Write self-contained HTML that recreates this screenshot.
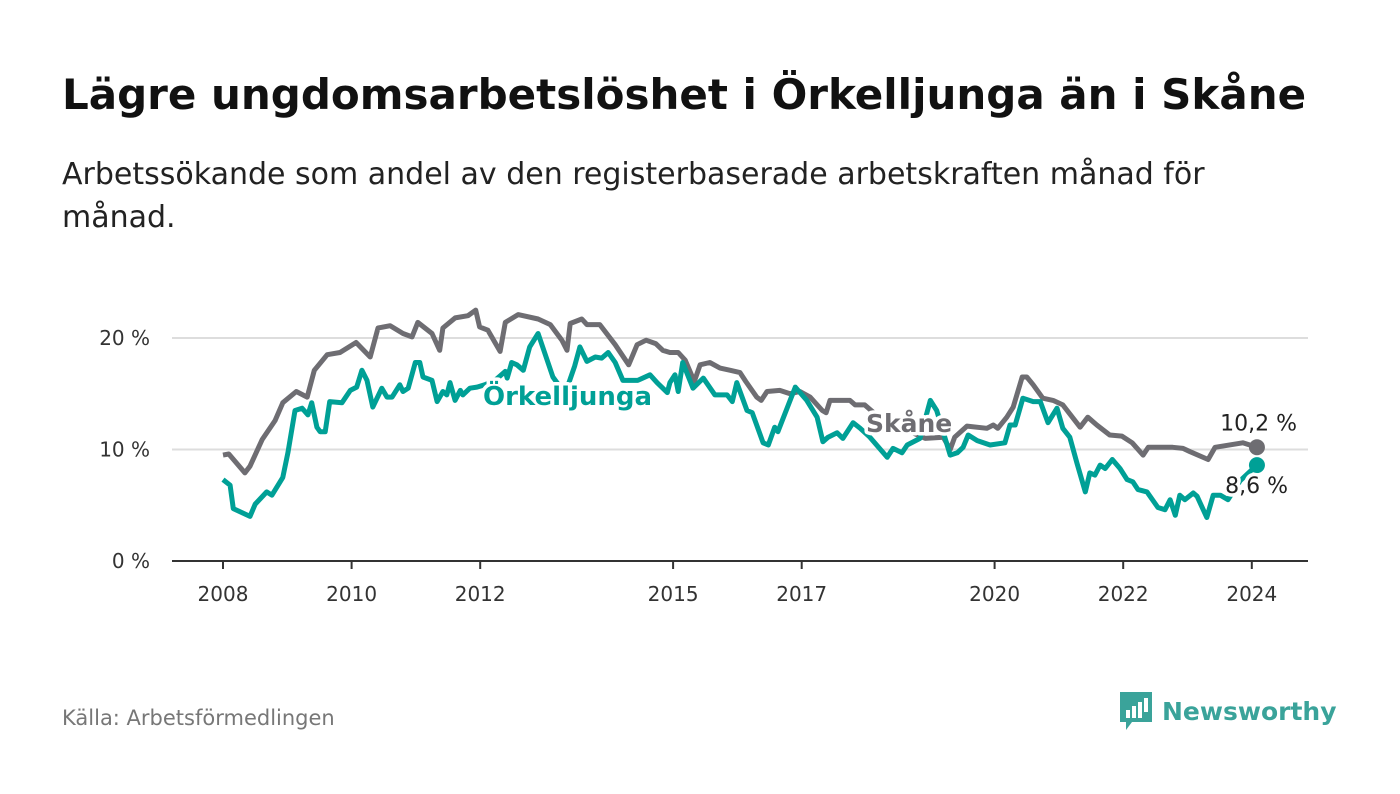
<!DOCTYPE html>
<html><head><meta charset="utf-8"><style>
body{margin:0;width:1400px;height:794px;background:#fff;font-family:"DejaVu Sans","Liberation Sans",sans-serif;overflow:hidden;position:relative}
h1{position:absolute;left:62px;top:70px;margin:0;font-size:42px;font-weight:bold;color:#111;white-space:nowrap}
.sub{position:absolute;left:62px;top:153px;width:1190px;font-size:30px;line-height:43px;color:#222}
.src{position:absolute;left:62px;top:706px;font-size:21px;color:#777}
.logo{position:absolute;left:1118px;top:690px;display:flex;align-items:center;gap:8px;color:#3aa39a;font-weight:bold;font-size:25px}
</style></head><body>
<h1>Lägre ungdomsarbetslöshet i Örkelljunga än i Skåne</h1>
<div class="sub">Arbetssökande som andel av den registerbaserade arbetskraften månad för månad.</div>
<div class="src">Källa: Arbetsförmedlingen</div>
<div class="logo">
<svg width="36" height="42" viewBox="0 0 36 42"><path d="M2 2h32v30H14l-6 8v-8H2z" fill="#3aa39a"/><rect x="8" y="20" width="4" height="8" fill="#fff"/><rect x="14" y="16" width="4" height="12" fill="#fff"/><rect x="20" y="12" width="4" height="16" fill="#fff"/><rect x="26" y="8" width="4" height="14" fill="#fff"/></svg>
<span>Newsworthy</span></div>
<svg id="chart" width="1400" height="794" style="position:absolute;left:0;top:0"></svg>
<script>
const skaneDates=[2008.00,2008.09,2008.34,2008.42,2008.61,2008.81,2008.93,2009.14,2009.31,2009.42,2009.62,2009.82,2010.07,2010.29,2010.41,2010.60,2010.80,2010.94,2011.03,2011.25,2011.37,2011.42,2011.61,2011.81,2011.93,2011.99,2012.12,2012.31,2012.39,2012.59,2012.90,2013.09,2013.27,2013.35,2013.40,2013.58,2013.66,2013.86,2014.10,2014.31,2014.44,2014.58,2014.73,2014.84,2014.95,2015.08,2015.19,2015.33,2015.42,2015.57,2015.73,2015.89,2016.04,2016.13,2016.30,2016.37,2016.46,2016.66,2016.82,2016.97,2017.13,2017.32,2017.38,2017.44,2017.75,2017.83,2017.98,2018.14,2018.53,2018.92,2019.20,2019.31,2019.38,2019.57,2019.88,2019.98,2020.05,2020.19,2020.29,2020.43,2020.50,2020.60,2020.75,2020.91,2021.06,2021.33,2021.45,2021.59,2021.79,2021.98,2022.14,2022.31,2022.39,2022.77,2022.93,2023.04,2023.32,2023.43,2023.86,2024.08];
const skaneValues=[9.5,9.6,7.9,8.5,10.9,12.6,14.2,15.2,14.7,17.1,18.5,18.7,19.6,18.3,20.9,21.1,20.4,20.1,21.4,20.4,18.9,20.9,21.8,22.0,22.5,21.0,20.7,18.8,21.4,22.1,21.7,21.2,19.8,18.9,21.3,21.7,21.2,21.2,19.4,17.6,19.4,19.8,19.5,18.9,18.7,18.7,18.0,16.1,17.6,17.8,17.3,17.1,16.9,16.1,14.7,14.4,15.2,15.3,15.0,15.2,14.7,13.5,13.3,14.4,14.4,14.0,14.0,13.2,12.0,11.0,11.1,10.0,11.1,12.1,11.9,12.2,11.9,12.9,13.8,16.5,16.5,15.8,14.6,14.4,14.0,12.0,12.9,12.2,11.3,11.2,10.6,9.5,10.2,10.2,10.1,9.8,9.1,10.2,10.6,10.2];
const orkDates=[2008.00,2008.11,2008.16,2008.42,2008.50,2008.68,2008.76,2008.93,2009.01,2009.12,2009.23,2009.32,2009.38,2009.46,2009.51,2009.59,2009.66,2009.85,2009.98,2010.08,2010.16,2010.24,2010.33,2010.47,2010.55,2010.63,2010.75,2010.80,2010.88,2010.99,2011.06,2011.11,2011.25,2011.33,2011.42,2011.48,2011.53,2011.61,2011.69,2011.73,2011.84,2011.95,2012.07,2012.23,2012.39,2012.42,2012.49,2012.57,2012.67,2012.77,2012.90,2013.13,2013.32,2013.47,2013.55,2013.66,2013.79,2013.89,2013.99,2014.10,2014.22,2014.45,2014.64,2014.75,2014.91,2014.95,2015.03,2015.08,2015.15,2015.31,2015.47,2015.65,2015.84,2015.92,2015.99,2016.15,2016.23,2016.40,2016.48,2016.58,2016.63,2016.90,2017.08,2017.24,2017.33,2017.41,2017.55,2017.64,2017.80,2017.91,2018.06,2018.33,2018.42,2018.56,2018.64,2018.84,2019.00,2019.10,2019.31,2019.42,2019.51,2019.59,2019.73,2019.93,2020.16,2020.24,2020.32,2020.44,2020.60,2020.71,2020.83,2020.97,2021.06,2021.17,2021.28,2021.41,2021.48,2021.56,2021.64,2021.72,2021.83,2021.95,2022.06,2022.15,2022.23,2022.37,2022.54,2022.65,2022.73,2022.81,2022.88,2022.96,2023.09,2023.15,2023.30,2023.40,2023.51,2023.63,2023.82,2024.08];
const orkValues=[7.3,6.8,4.7,4.0,5.1,6.2,5.9,7.5,9.7,13.5,13.7,13.1,14.2,12.0,11.6,11.6,14.3,14.2,15.3,15.6,17.1,16.2,13.8,15.5,14.7,14.7,15.8,15.2,15.5,17.8,17.8,16.5,16.2,14.3,15.2,14.9,16.0,14.4,15.3,14.9,15.5,15.6,15.8,16.2,17.0,16.4,17.8,17.6,17.1,19.2,20.4,16.5,15.0,17.5,19.2,17.9,18.3,18.2,18.7,17.8,16.2,16.2,16.7,16.0,15.1,16.0,16.7,15.2,17.8,15.5,16.4,14.9,14.9,14.3,16.0,13.5,13.3,10.6,10.4,12.0,11.6,15.6,14.4,12.9,10.7,11.1,11.5,11.0,12.4,11.9,11.1,9.3,10.1,9.7,10.4,11.0,14.4,13.5,9.5,9.7,10.2,11.3,10.8,10.4,10.6,12.2,12.2,14.6,14.3,14.3,12.4,13.7,11.9,11.1,8.8,6.2,7.9,7.7,8.6,8.3,9.1,8.3,7.3,7.1,6.4,6.2,4.8,4.6,5.5,4.1,5.9,5.5,6.1,5.8,3.9,5.9,5.9,5.5,7.2,8.6];
const xTicks=[2008,2010,2012,2015,2017,2020,2022,2024];
const yTicks=[0,10,20];
const NS='http://www.w3.org/2000/svg';
const svg=document.getElementById('chart');
const FF='DejaVu Sans, Liberation Sans, sans-serif';
const X=d=>223+(d-2008)*64.3;
const Y=v=>561-v*11.15;
function mk(tag,attrs){const e=document.createElementNS(NS,tag);for(const k in attrs)e.setAttribute(k,attrs[k]);svg.appendChild(e);return e;}
yTicks.forEach(t=>{
  if(t>0){const g=mk('line',{x1:172,x2:1308,y1:Y(t),y2:Y(t),stroke:'#ddd','stroke-width':2});
  
  }
  const l=mk('text',{x:150,y:Y(t)+7,'text-anchor':'end','font-size':20,fill:'#333','font-family':FF});
  l.textContent=t+' %';
  
  
});
const ax=mk('line',{x1:172,x2:1308,y1:561,y2:561,stroke:'#333','stroke-width':2});


xTicks.forEach(t=>{
  const tk=mk('line',{x1:X(t),x2:X(t),y1:561,y2:569,stroke:'#333','stroke-width':2});
  
  
  const l=mk('text',{x:X(t),y:601,'text-anchor':'middle','font-size':20,fill:'#333','font-family':FF});
  l.textContent=t;
  
  
});
function line(d,v,color,name){
  const p=mk('path',{d:d.map((x,i)=>(i?'L':'M')+X(x).toFixed(1)+','+Y(v[i]).toFixed(1)).join(''),fill:'none',stroke:color,'stroke-width':5,'stroke-linejoin':'round'});
  
  
}
line(skaneDates,skaneValues,'#6e6d72','skane-line');
line(orkDates,orkValues,'#00a096','orkelljunga-line');
function lab(x,y,t,c,bold,size,name,anchor){
  const e=mk('text',{x:x,y:y,'font-size':size,fill:c,'font-weight':bold?'bold':'normal',stroke:'#fff','stroke-width':7,'paint-order':'stroke','stroke-linejoin':'round','text-anchor':anchor||'start','font-family':FF});
  e.textContent=t;
  
  
}
lab(483,405,'Örkelljunga','#00a096',true,26,'orkelljunga-label');
lab(866,432,'Skåne','#6e6d72',true,25,'skane-label');
const lastS=skaneValues[skaneValues.length-1], lastO=orkValues[orkValues.length-1];
const d1=mk('circle',{cx:X(skaneDates[skaneDates.length-1]),cy:Y(lastS),r:8,fill:'#6e6d72'});


const d2=mk('circle',{cx:X(orkDates[orkDates.length-1]),cy:Y(lastO),r:8,fill:'#00a096'});


lab(1297,Y(lastS)-17,String(lastS).replace('.',',')+' %','#222',false,22,'skane-end-value','end');
lab(1288,Y(lastO)+28,String(lastO).replace('.',',')+' %','#222',false,22,'orkelljunga-end-value','end');
</script>
</body></html>
